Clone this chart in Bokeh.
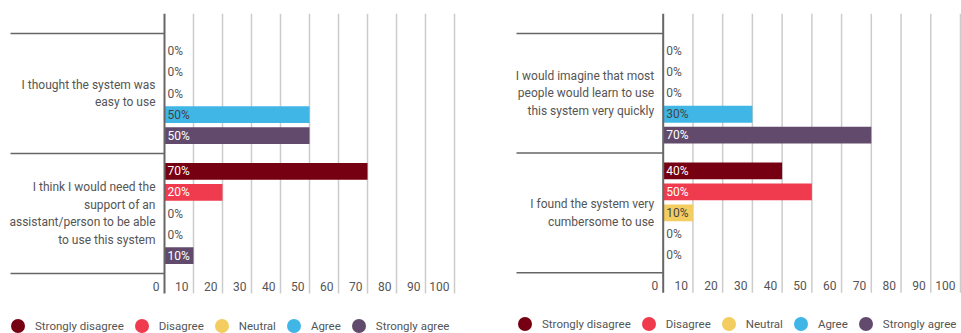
from bokeh.plotting import figure
from bokeh.models import ColumnDataSource, Range1d, Legend, LegendItem
from bokeh.layouts import row
from bokeh.core.properties import value
from bokeh.embed import file_html
from bokeh.resources import INLINE

# ---- data ----
responses = ["Strongly disagree", "Disagree", "Neutral", "Agree", "Strongly agree"]
colors = ["#760012", "#EF3B4D", "#F3CD60", "#40B6E6", "#614A6B"]
label_on_bar = ["#ffffff", "#ffffff", "#444444", "#444444", "#ffffff"]
ticks = [0, 10, 20, 30, 40, 50, 60, 70, 80, 90, 100]

left_questions = [
    "I thought the system was\neasy to use",
    "I think I would need the\nsupport of an\nassistant/person to be able\nto use this system",
]
left_easy_to_use = [0, 0, 0, 50, 50]
left_need_support = [70, 20, 0, 0, 10]

right_questions = [
    "I would imagine that most\npeople would learn to use\nthis system very quickly",
    "I found the system very\ncumbersome to use",
]
right_learn_quickly = [0, 0, 0, 30, 70]
right_cumbersome = [40, 50, 10, 0, 0]

FONT = "Roboto"
TEXT = "#555555"
GROUP_PAD = 0.7
CHART_H = 280  # pixel height of the gridded area
NAN = float("nan")


def make_panel(questions, rows, width, axis_px, full_px, top, sep_left_px, legend_loc):
    per_unit = (full_px - axis_px) / 100.0
    x_start = -axis_px / per_unit
    x_end = (width - axis_px) / per_unit
    n = len(responses)
    step = n + GROUP_PAD
    seps = [g * step - 0.5 - GROUP_PAD / 2 for g in range(len(questions) + 1)]
    y_top = seps[0] - 0.95
    y_grid_bot = seps[-1] + 0.95
    frame_h = 333 - top
    y_bot = y_top + (y_grid_bot - y_top) * frame_h / CHART_H

    p = figure(width=width, height=333,
               x_range=Range1d(x_start, x_end), y_range=Range1d(y_bot, y_top),
               x_axis_type=None, y_axis_type=None,
               toolbar_location=None, output_backend="svg",
               min_border_left=0, min_border_right=0,
               min_border_top=top, min_border_bottom=0)
    p.outline_line_color = None
    p.background_fill_color = "white"
    p.border_fill_color = "white"

    # vertical grid lines (limited to the chart area)
    gt = ticks[1:]
    p.segment(x0=gt, x1=gt, y0=[y_top] * len(gt), y1=[y_grid_bot] * len(gt),
              line_color="#cccccc", line_width=1.5)

    # bars
    legend_items = []
    for r, resp in enumerate(responses):
        src = ColumnDataSource(dict(
            y=[g * step + r for g in range(len(questions))],
            right=[rows[g][r] for g in range(len(questions))],
        ))
        p.hbar(y="y", left=0, right="right", height=0.8, source=src,
               fill_color=colors[r], line_color=None)
        # legend-only marker (no visible point)
        dummy = p.scatter(x=[NAN], y=[NAN], marker="circle", size=14,
                          fill_color=colors[r], line_color=None)
        legend_items.append(LegendItem(label=resp, renderers=[dummy]))

    # value labels
    lx, ly, lt, lc = [], [], [], []
    for g in range(len(questions)):
        for r in range(n):
            v = rows[g][r]
            lx.append(0)
            ly.append(g * step + r)
            lt.append(f"{v}%")
            lc.append(label_on_bar[r] if v > 0 else TEXT)
    p.text(x="x", y="y", text="t", text_color="c",
           source=ColumnDataSource(dict(x=lx, y=ly, t=lt, c=lc)),
           x_offset=3, text_align="left", text_baseline="middle",
           text_font=value(FONT), text_font_size="12px")

    # question labels
    p.text(x=[0] * len(questions), y=[g * step + (n - 1) / 2 for g in range(len(questions))],
           text=questions, x_offset=-9, text_align="right", text_baseline="middle",
           text_font=value(FONT), text_font_size="12px", text_color=TEXT,
           text_line_height=1.25)

    # separators between question groups
    sep_x0 = x_start + sep_left_px / per_unit
    p.segment(x0=[sep_x0] * len(seps), x1=[0] * len(seps), y0=seps, y1=seps,
              line_color="#666666", line_width=1.5)

    # axis line
    p.segment(x0=[0], x1=[0], y0=[y_top], y1=[y_grid_bot],
              line_color="#666666", line_width=2)

    # tick labels
    p.text(x=ticks, y=[seps[-1]] * len(ticks), text=[str(t) for t in ticks],
           x_offset=-5, y_offset=13, text_align="right", text_baseline="middle",
           text_font=value(FONT), text_font_size="12px", text_color=TEXT)

    legend = Legend(items=legend_items, orientation="horizontal", location=legend_loc,
                    glyph_width=35, glyph_height=35, label_standoff=0, spacing=0,
                    padding=0, margin=0, border_line_color=None,
                    background_fill_alpha=0,
                    label_text_font=FONT, label_text_font_size="11.5px",
                    label_text_color=TEXT)
    p.add_layout(legend)
    return p


left = make_panel(left_questions, [left_easy_to_use, left_need_support],
                  480, 164, 454, 13, 10, (0, -10))
right = make_panel(right_questions, [right_learn_quickly, right_cumbersome],
                   481, 182.7, 480, 12, 36, (27, -8))

layout = row(left, right, spacing=0)
open("out.html", "w").write(file_html(layout, INLINE))
